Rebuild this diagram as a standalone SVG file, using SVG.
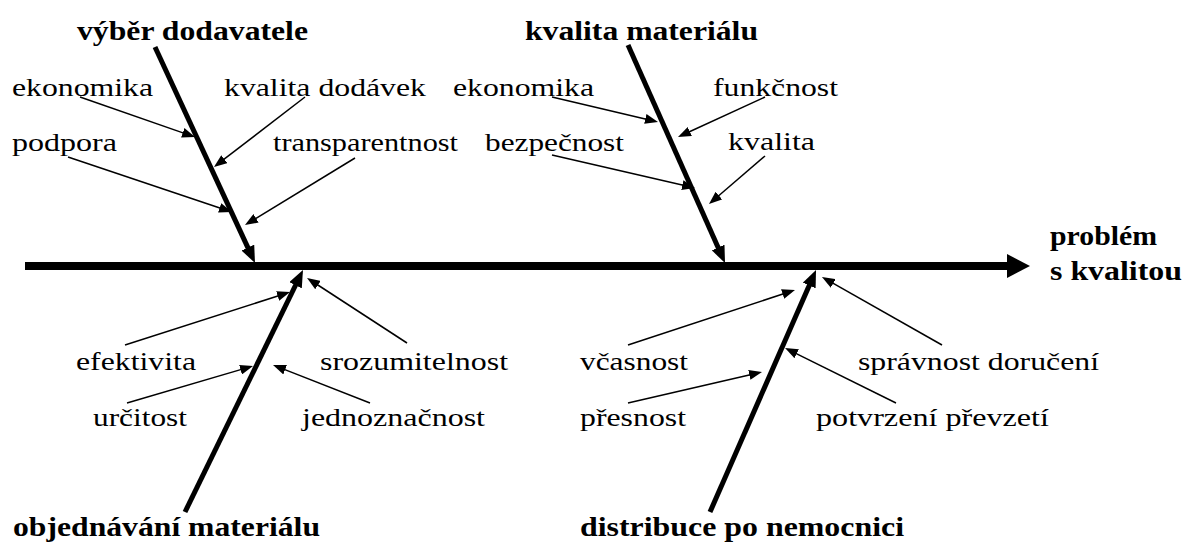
<svg xmlns="http://www.w3.org/2000/svg" width="1188" height="544" viewBox="0 0 1188 544">
  <defs>
    <style>
      .lbl { font-size: 26px; fill: #000; }
      .cat { font-size: 27px; font-weight: bold; fill: #000; }
      .spine { stroke: #000; stroke-width: 8; fill: none; }
      .bone { stroke: #000; stroke-width: 5; fill: none; }
      .twig { stroke: #000; stroke-width: 1.5; fill: none; }
    </style>
    <marker id="headSpine" markerUnits="userSpaceOnUse" markerWidth="23" markerHeight="24" refX="1" refY="12" orient="auto">
      <path d="M0,0 L23,12 L0,24 z" fill="#000"/>
    </marker>
    <marker id="headBone" markerUnits="userSpaceOnUse" markerWidth="17" markerHeight="14" refX="2" refY="7" orient="auto">
      <path d="M0,0 L17,7 L0,14 z" fill="#000"/>
    </marker>
    <marker id="headTwig" markerUnits="userSpaceOnUse" markerWidth="13" markerHeight="10" refX="1" refY="5" orient="auto">
      <path d="M0,0 L13,5 L0,10 z" fill="#000"/>
    </marker>
  </defs>
  <rect width="1188" height="544" fill="#fff"/>

  <g id="connectors">
    <!-- main spine -->
    <line class="spine" x1="25" y1="266" x2="1008" y2="266" marker-end="url(#headSpine)"/>
    <!-- category bones -->
    <line class="bone" x1="155" y1="47" x2="248.7" y2="249.4" marker-end="url(#headBone)"/>
    <line class="bone" x1="628" y1="45" x2="718.9" y2="249.3" marker-end="url(#headBone)"/>
    <line class="bone" x1="185" y1="512" x2="296.4" y2="283.5" marker-end="url(#headBone)"/>
    <line class="bone" x1="710" y1="512" x2="810.0" y2="283.7" marker-end="url(#headBone)"/>
    <!-- cause arrows -->
    <line class="twig" x1="80" y1="97" x2="183.7" y2="133.1" marker-end="url(#headTwig)"/>
    <line class="twig" x1="305" y1="97" x2="223.5" y2="159.7" marker-end="url(#headTwig)"/>
    <line class="twig" x1="68" y1="157" x2="220.6" y2="208.2" marker-end="url(#headTwig)"/>
    <line class="twig" x1="355" y1="158" x2="255.2" y2="218.8" marker-end="url(#headTwig)"/>
    <line class="twig" x1="552" y1="97" x2="646.3" y2="119.2" marker-end="url(#headTwig)"/>
    <line class="twig" x1="765" y1="97" x2="688.9" y2="132.0" marker-end="url(#headTwig)"/>
    <line class="twig" x1="552" y1="155" x2="683.3" y2="185.3" marker-end="url(#headTwig)"/>
    <line class="twig" x1="765" y1="156" x2="718.1" y2="196.2" marker-end="url(#headTwig)"/>
    <line class="twig" x1="125" y1="345" x2="278.6" y2="295.7" marker-end="url(#headTwig)"/>
    <line class="twig" x1="407" y1="343" x2="317.1" y2="284.5" marker-end="url(#headTwig)"/>
    <line class="twig" x1="127" y1="403" x2="241.5" y2="369.4" marker-end="url(#headTwig)"/>
    <line class="twig" x1="370" y1="403" x2="284.2" y2="369.4" marker-end="url(#headTwig)"/>
    <line class="twig" x1="628" y1="345" x2="783.6" y2="293.8" marker-end="url(#headTwig)"/>
    <line class="twig" x1="942" y1="345" x2="832.4" y2="282.9" marker-end="url(#headTwig)"/>
    <line class="twig" x1="628" y1="403" x2="750.3" y2="374.7" marker-end="url(#headTwig)"/>
    <line class="twig" x1="896" y1="403" x2="795.8" y2="353.3" marker-end="url(#headTwig)"/>
  </g>

  <g id="effect" font-family="Liberation Serif">
    <text class="cat" x="1050" y="245" textLength="107" lengthAdjust="spacingAndGlyphs">problém</text>
    <text class="cat" x="1050" y="280" textLength="132" lengthAdjust="spacingAndGlyphs">s kvalitou</text>
  </g>

  <g id="vyber-dodavatele" font-family="Liberation Serif">
    <text class="cat" x="77" y="40" textLength="231" lengthAdjust="spacingAndGlyphs">výběr dodavatele</text>
    <text class="lbl" x="12" y="96" textLength="141" lengthAdjust="spacingAndGlyphs">ekonomika</text>
    <text class="lbl" x="224" y="96" textLength="202" lengthAdjust="spacingAndGlyphs">kvalita dodávek</text>
    <text class="lbl" x="12" y="151" textLength="105" lengthAdjust="spacingAndGlyphs">podpora</text>
    <text class="lbl" x="273" y="151" textLength="185" lengthAdjust="spacingAndGlyphs">transparentnost</text>
  </g>

  <g id="kvalita-materialu" font-family="Liberation Serif">
    <text class="cat" x="525" y="40" textLength="233" lengthAdjust="spacingAndGlyphs">kvalita materiálu</text>
    <text class="lbl" x="453" y="96" textLength="141" lengthAdjust="spacingAndGlyphs">ekonomika</text>
    <text class="lbl" x="713" y="96" textLength="125" lengthAdjust="spacingAndGlyphs">funkčnost</text>
    <text class="lbl" x="485" y="151" textLength="139" lengthAdjust="spacingAndGlyphs">bezpečnost</text>
    <text class="lbl" x="728" y="150" textLength="87" lengthAdjust="spacingAndGlyphs">kvalita</text>
  </g>

  <g id="objednavani-materialu" font-family="Liberation Serif">
    <text class="cat" x="13" y="536" textLength="307" lengthAdjust="spacingAndGlyphs">objednávání materiálu</text>
    <text class="lbl" x="76" y="370" textLength="120" lengthAdjust="spacingAndGlyphs">efektivita</text>
    <text class="lbl" x="320" y="370" textLength="188" lengthAdjust="spacingAndGlyphs">srozumitelnost</text>
    <text class="lbl" x="93" y="426" textLength="94" lengthAdjust="spacingAndGlyphs">určitost</text>
    <text class="lbl" x="302" y="426" textLength="183" lengthAdjust="spacingAndGlyphs">jednoznačnost</text>
  </g>

  <g id="distribuce-po-nemocnici" font-family="Liberation Serif">
    <text class="cat" x="580" y="536" textLength="324" lengthAdjust="spacingAndGlyphs">distribuce po nemocnici</text>
    <text class="lbl" x="580" y="370" textLength="108" lengthAdjust="spacingAndGlyphs">včasnost</text>
    <text class="lbl" x="858" y="370" textLength="241" lengthAdjust="spacingAndGlyphs">správnost doručení</text>
    <text class="lbl" x="580" y="426" textLength="106" lengthAdjust="spacingAndGlyphs">přesnost</text>
    <text class="lbl" x="816" y="426" textLength="233" lengthAdjust="spacingAndGlyphs">potvrzení převzetí</text>
  </g>
</svg>
